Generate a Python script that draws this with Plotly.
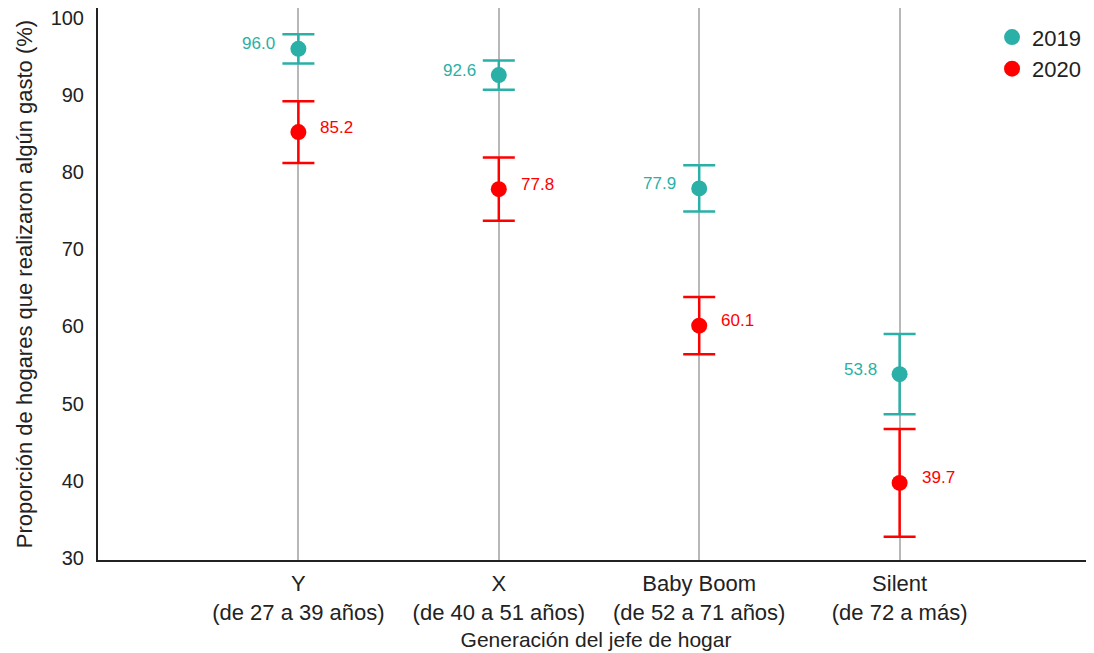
import plotly.graph_objects as go

categories = ["Y<br>(de 27 a 39 años)", "X<br>(de 40 a 51 años)",
              "Baby Boom<br>(de 52 a 71 años)", "Silent<br>(de 72 a más)"]
vals_2019 = [96.0, 92.6, 77.9, 53.8]
err_2019 = [1.9, 1.9, 3.0, 5.2]
vals_2020 = [85.2, 77.8, 60.1, 39.7]
err_2020 = [4.0, 4.1, 3.7, 7.0]

teal = "#2ab0a6"
red = "#ff0000"
xs = list(range(len(categories)))
FONT = "Liberation Sans, Arial, sans-serif"

fig = go.Figure()
fig.add_trace(go.Scatter(
    x=xs, y=vals_2019, mode="markers", name="2019",
    marker=dict(color=teal, size=16),
    error_y=dict(type="data", array=err_2019, color=teal, thickness=2.5, width=16),
))
fig.add_trace(go.Scatter(
    x=xs, y=vals_2020, mode="markers", name="2020",
    marker=dict(color=red, size=16),
    error_y=dict(type="data", array=err_2020, color=red, thickness=2.5, width=16),
))

for x, v in zip(xs, vals_2019):
    fig.add_annotation(x=x, y=v, text=f"{v:.1f}", showarrow=False,
                       xanchor="right", xshift=-21, yshift=5,
                       font=dict(color=teal, size=17, family=FONT))
for x, v in zip(xs, vals_2020):
    fig.add_annotation(x=x, y=v, text=f"{v:.1f}", showarrow=False,
                       xanchor="left", xshift=20, yshift=5,
                       font=dict(color=red, size=17, family=FONT))

fig.update_layout(
    width=1086, height=645,
    margin=dict(l=90, r=0, t=0, b=93, autoexpand=False),
    plot_bgcolor="white", paper_bgcolor="white",
    font=dict(family=FONT, color="#222222", size=21),
    showlegend=True,
    legend=dict(x=0.992, y=0.985, xanchor="right", yanchor="top",
                font=dict(size=22, color="#222222"), bgcolor="rgba(0,0,0,0)",
                itemwidth=30, tracegroupgap=0),
)
fig.update_xaxes(
    range=[-1, 3.97], tickmode="array", tickvals=xs, ticktext=categories,
    showgrid=True, gridcolor="#b8b8b8", gridwidth=2,
    showline=True, linecolor="#222222", linewidth=2, zeroline=False,
    ticks="", tickfont=dict(size=22), ticklabelstandoff=3,
    title=dict(text="Generación del jefe de hogar", font=dict(size=21), standoff=8),
)
fig.update_yaxes(
    range=[29.7, 101.3], tickmode="array", tickvals=[30, 40, 50, 60, 70, 80, 90, 100],
    showgrid=False, showline=True, linecolor="#222222", linewidth=2, zeroline=False,
    ticks="", tickfont=dict(size=20), ticklabelstandoff=8, ticklabeloverflow="allow",
    title=dict(text="Proporción de hogares que realizaron algún gasto (%)", font=dict(size=22), standoff=12),
)

fig.write_html("out.html")
